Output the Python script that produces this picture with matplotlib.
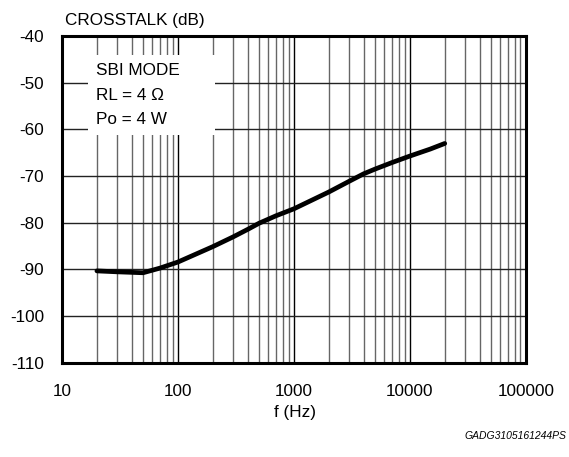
import matplotlib
matplotlib.use("Agg")
import matplotlib.pyplot as plt
from matplotlib.ticker import FixedLocator, NullFormatter

plt.rcParams['font.family'] = ['Liberation Sans', 'DejaVu Sans']

freq_hz = [20, 30, 50, 70, 100, 200, 300, 400, 500, 700, 1000, 2000, 3000, 4000, 5000, 7000, 10000, 15000, 20000]
crosstalk_db = [-90.3, -90.5, -90.7, -89.7, -88.4, -85.1, -83.0, -81.4, -80.1, -78.5, -77.0, -73.4, -71.1, -69.5, -68.5, -67.1, -65.7, -64.2, -63.0]

x_ticks = [10, 100, 1000, 10000, 100000]
x_tick_labels = ["10", "100", "1000", "10000", "100000"]
y_ticks = [-40, -50, -60, -70, -80, -90, -100, -110]
annot_lines = ["SBI MODE", "RL = 4 \u03a9", "Po = 4 W"]

fig = plt.figure(figsize=(5.69, 4.57), dpi=100)
ax = fig.add_axes([0.109, 0.206, 0.815, 0.715])
ax.set_xscale('log')
ax.set_xlim(10, 100000)
ax.set_ylim(-110, -40)

ax.set_xticks(x_ticks)
ax.set_xticklabels(x_tick_labels)
minor = [m * d for d in [10, 100, 1000, 10000] for m in range(2, 10)]
ax.xaxis.set_minor_locator(FixedLocator(minor))
ax.xaxis.set_minor_formatter(NullFormatter())
ax.set_yticks(y_ticks)
ax.set_yticklabels([str(v) for v in y_ticks])
ax.tick_params(axis='both', which='both', length=0, labelsize=12.3)
ax.tick_params(axis='x', pad=15)
ax.tick_params(axis='y', pad=13)

ax.grid(True, which='major', axis='x', color='black', linewidth=1.0, zorder=0)
ax.grid(True, which='minor', axis='x', color='#666666', linewidth=1.0, zorder=0)
ax.grid(True, which='major', axis='y', color='#222222', linewidth=1.0, zorder=0)

for s in ax.spines.values():
    s.set_linewidth(2.2)
    s.set_color('black')
    s.set_zorder(5)

# white annotation box
ax.add_patch(plt.Rectangle((0.056, 0.697), 0.274, 0.245, transform=ax.transAxes,
                           facecolor='white', edgecolor='none', zorder=2))
ys = [0.896, 0.818, 0.744]
for t, yy in zip(annot_lines, ys):
    ax.text(0.073, yy, t, transform=ax.transAxes, fontsize=12.3, va='center', ha='left', zorder=3)

ax.plot(freq_hz, crosstalk_db, color='black', linewidth=3.4, solid_capstyle='round',
        solid_joinstyle='round', zorder=4)

fig.text(65/569, 1 - 20/457, "CROSSTALK (dB)", fontsize=12.3, ha='left', va='center')
fig.text(295/569, 1 - 412/457, "f (Hz)", fontsize=12.3, ha='center', va='center')
fig.text(566/569, 1 - 436/457, "GADG3105161244PS", fontsize=7.5, style='italic', ha='right', va='center')

fig.savefig("out.png", dpi=100)
